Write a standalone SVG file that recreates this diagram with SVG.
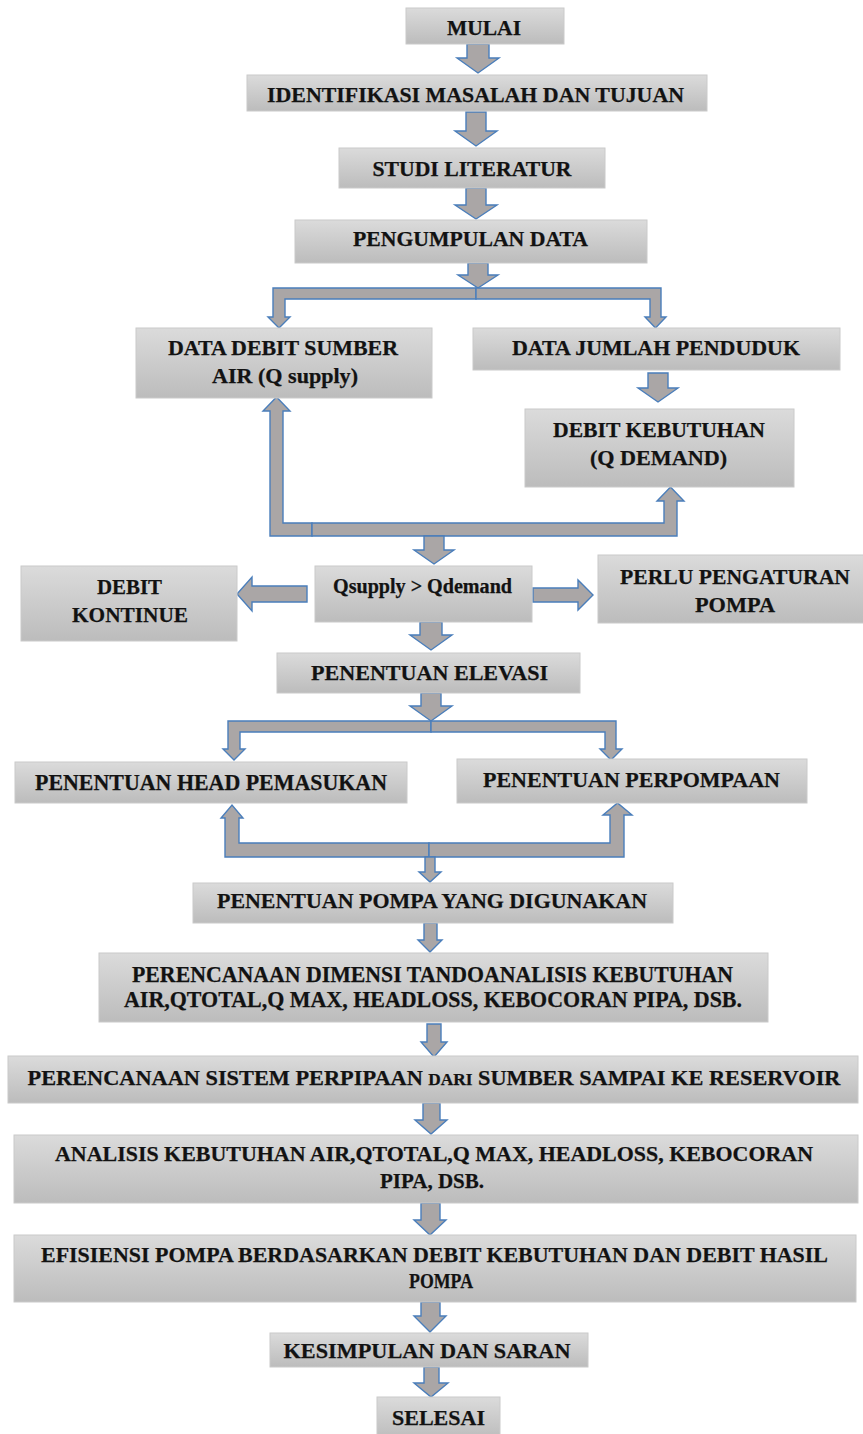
<svg xmlns="http://www.w3.org/2000/svg" width="863" height="1434" viewBox="0 0 863 1434">
<defs>
<linearGradient id="boxg" x1="0" y1="0" x2="0" y2="1">
<stop offset="0" stop-color="#dbdbdb"/>
<stop offset="1" stop-color="#bcbcbc"/>
</linearGradient>
<style>
.box{fill:url(#boxg);stroke:#cacaca;stroke-width:1}
.t{font-family:"Liberation Serif","Times New Roman",serif;font-weight:bold;fill:#121212;stroke:#121212;stroke-width:0.25;text-anchor:middle}
.ar{fill:#aaa6a6;stroke:#4a7ebb;stroke-width:1.4;stroke-linejoin:miter}
</style>
</defs>
<rect x="0" y="0" width="863" height="1434" fill="#ffffff"/>
<g id="connectors">
<polygon class="ar" points="467,44 489,44 489,58 499,58 478,73 457,58 467,58"/>
<polygon class="ar" points="466,112 486,112 486,131 497,131 476,146 455,131 466,131"/>
<polygon class="ar" points="466,188 486,188 486,205 497,205 476,219 455,205 466,205"/>
<polygon class="ar" points="468,263 488,263 488,275 498,275 478,288 458,275 468,275"/>
<polygon class="ar" points="476,288 273,288 273,317 268,317 279,328 290,317 285,317 285,299 476,299"/>
<polygon class="ar" points="476,288 661,288 661,317 666,317 655.5,328 645,317 650,317 650,299 476,299"/>
<polygon class="ar" points="648,373 668,373 668,388 678,388 658,402 638,388 648,388"/>
<polygon class="ar" points="312,536 270,536 270,411 263,411 276.5,397 290,411 283,411 283,523 312,523"/>
<polygon class="ar" points="312,523 664,523 664,501 657,501 670.5,487 684,501 677,501 677,536 312,536"/>
<polygon class="ar" points="424,536 444,536 444,550 454,550 434,564 414,550 424,550"/>
<polygon class="ar" points="307,586 252,586 252,577 237,594 252,611 252,602 307,602"/>
<polygon class="ar" points="533,588 578,588 578,580 593,595 578,610 578,602 533,602"/>
<polygon class="ar" points="420,622 442,622 442,635 452,635 431,650 410,635 420,635"/>
<polygon class="ar" points="421,693 441,693 441,706 452,706 431,721 410,706 421,706"/>
<polygon class="ar" points="431,721 228,721 228,749 223,749 234,760 245,749 240,749 240,732 431,732"/>
<polygon class="ar" points="431,721 616,721 616,749 622,749 611,760 600,749 605,749 605,732 431,732"/>
<polygon class="ar" points="429,857 225,857 225,818 221,818 232,805 243,818 239,818 239,843 429,843"/>
<polygon class="ar" points="429,843 610,843 610,815 603,815 617.5,803 632,815 624,815 624,857 429,857"/>
<polygon class="ar" points="425,857 435,857 435,872 441,872 430,882 419,872 425,872"/>
<polygon class="ar" points="424,923 437,923 437,940 442,940 430,952 418,940 424,940"/>
<polygon class="ar" points="427,1024 441,1024 441,1042 447,1042 434,1057 421,1042 427,1042"/>
<polygon class="ar" points="423,1103 440,1103 440,1120 447,1120 431,1134 415,1120 423,1120"/>
<polygon class="ar" points="421,1203 440,1203 440,1220 446,1220 430,1235 414,1220 421,1220"/>
<polygon class="ar" points="421,1302 440,1302 440,1316 446,1316 430,1332 414,1316 421,1316"/>
<polygon class="ar" points="424,1367 439,1367 439,1383 448,1383 431,1397 414,1383 424,1383"/>
</g>
<g id="mulai"><rect class="box" x="406" y="8" width="158" height="36"/><text class="t" x="484" y="35" font-size="20" textLength="74" lengthAdjust="spacingAndGlyphs">MULAI</text></g>
<g id="identifikasi"><rect class="box" x="247" y="75" width="460" height="36"/><text class="t" x="475.5" y="102" font-size="21" textLength="417" lengthAdjust="spacingAndGlyphs">IDENTIFIKASI MASALAH DAN TUJUAN</text></g>
<g id="studi"><rect class="box" x="339" y="148" width="266" height="40"/><text class="t" x="472" y="176" font-size="20" textLength="199" lengthAdjust="spacingAndGlyphs">STUDI LITERATUR</text></g>
<g id="pengumpulan"><rect class="box" x="295" y="220" width="352" height="43"/><text class="t" x="470.5" y="246" font-size="20" textLength="235" lengthAdjust="spacingAndGlyphs">PENGUMPULAN DATA</text></g>
<g id="data-debit"><rect class="box" x="136" y="328" width="296" height="70"/><text class="t" x="283" y="355" font-size="21" textLength="230" lengthAdjust="spacingAndGlyphs">DATA DEBIT SUMBER</text><text class="t" x="285" y="383" font-size="21" textLength="146" lengthAdjust="spacingAndGlyphs">AIR (Q supply)</text></g>
<g id="data-jumlah"><rect class="box" x="473" y="328" width="367" height="42"/><text class="t" x="656" y="355" font-size="21" textLength="288" lengthAdjust="spacingAndGlyphs">DATA JUMLAH PENDUDUK</text></g>
<g id="debit-kebutuhan"><rect class="box" x="525" y="409" width="269" height="78"/><text class="t" x="659" y="437" font-size="21" textLength="212" lengthAdjust="spacingAndGlyphs">DEBIT KEBUTUHAN</text><text class="t" x="658.5" y="465" font-size="21" textLength="137" lengthAdjust="spacingAndGlyphs">(Q DEMAND)</text></g>
<g id="qsupply"><rect class="box" x="315" y="566" width="217" height="56"/><text class="t" x="422.5" y="593" font-size="20" textLength="179" lengthAdjust="spacingAndGlyphs">Qsupply &gt; Qdemand</text></g>
<g id="debit-kontinue"><rect class="box" x="21" y="566" width="216" height="75"/><text class="t" x="129.5" y="594" font-size="22" textLength="65" lengthAdjust="spacingAndGlyphs">DEBIT</text><text class="t" x="130" y="622" font-size="22" textLength="116" lengthAdjust="spacingAndGlyphs">KONTINUE</text></g>
<g id="perlu-pengaturan"><rect class="box" x="598" y="555" width="275" height="68"/><text class="t" x="735" y="584" font-size="22" textLength="230" lengthAdjust="spacingAndGlyphs">PERLU PENGATURAN</text><text class="t" x="735" y="612" font-size="22" textLength="80" lengthAdjust="spacingAndGlyphs">POMPA</text></g>
<g id="elevasi"><rect class="box" x="277" y="653" width="303" height="40"/><text class="t" x="429.5" y="680" font-size="22" textLength="237" lengthAdjust="spacingAndGlyphs">PENENTUAN ELEVASI</text></g>
<g id="head-pemasukan"><rect class="box" x="15" y="762" width="392" height="41"/><text class="t" x="211" y="790" font-size="23" textLength="352" lengthAdjust="spacingAndGlyphs">PENENTUAN HEAD PEMASUKAN</text></g>
<g id="perpompaan"><rect class="box" x="457" y="759" width="350" height="44"/><text class="t" x="631.5" y="787" font-size="22" textLength="297" lengthAdjust="spacingAndGlyphs">PENENTUAN PERPOMPAAN</text></g>
<g id="pompa-digunakan"><rect class="box" x="193" y="883" width="480" height="40"/><text class="t" x="432" y="908" font-size="22" textLength="430" lengthAdjust="spacingAndGlyphs">PENENTUAN POMPA YANG DIGUNAKAN</text></g>
<g id="dimensi-tando"><rect class="box" x="99" y="953" width="669" height="69"/><text class="t" x="432.5" y="982" font-size="23" textLength="601" lengthAdjust="spacingAndGlyphs">PERENCANAAN DIMENSI TANDOANALISIS KEBUTUHAN</text><text class="t" x="433" y="1007" font-size="23" textLength="618" lengthAdjust="spacingAndGlyphs">AIR,QTOTAL,Q MAX, HEADLOSS, KEBOCORAN PIPA, DSB.</text></g>
<g id="sistem-perpipaan"><rect class="box" x="8" y="1056" width="850" height="47"/><text class="t" x="434" y="1085" font-size="22" textLength="813" lengthAdjust="spacingAndGlyphs">PERENCANAAN SISTEM PERPIPAAN  <tspan font-size="17">DARI</tspan> SUMBER SAMPAI KE RESERVOIR</text></g>
<g id="analisis"><rect class="box" x="14" y="1135" width="844" height="68"/><text class="t" x="434" y="1161" font-size="22" textLength="758" lengthAdjust="spacingAndGlyphs">ANALISIS KEBUTUHAN AIR,QTOTAL,Q MAX, HEADLOSS,  KEBOCORAN</text><text class="t" x="432" y="1188" font-size="22" textLength="104" lengthAdjust="spacingAndGlyphs">PIPA, DSB.</text></g>
<g id="efisiensi"><rect class="box" x="14" y="1235" width="842" height="67"/><text class="t" x="434.5" y="1262" font-size="22" textLength="787" lengthAdjust="spacingAndGlyphs">EFISIENSI POMPA BERDASARKAN DEBIT KEBUTUHAN  DAN DEBIT HASIL</text><text class="t" x="441" y="1288" font-size="22" textLength="64" lengthAdjust="spacingAndGlyphs">POMPA</text></g>
<g id="kesimpulan"><rect class="box" x="270" y="1333" width="318" height="34"/><text class="t" x="427" y="1358" font-size="22" textLength="287" lengthAdjust="spacingAndGlyphs">KESIMPULAN DAN SARAN</text></g>
<g id="selesai"><rect class="box" x="377" y="1397" width="123" height="42"/><text class="t" x="438.5" y="1425" font-size="22" textLength="93" lengthAdjust="spacingAndGlyphs">SELESAI</text></g>
</svg>
